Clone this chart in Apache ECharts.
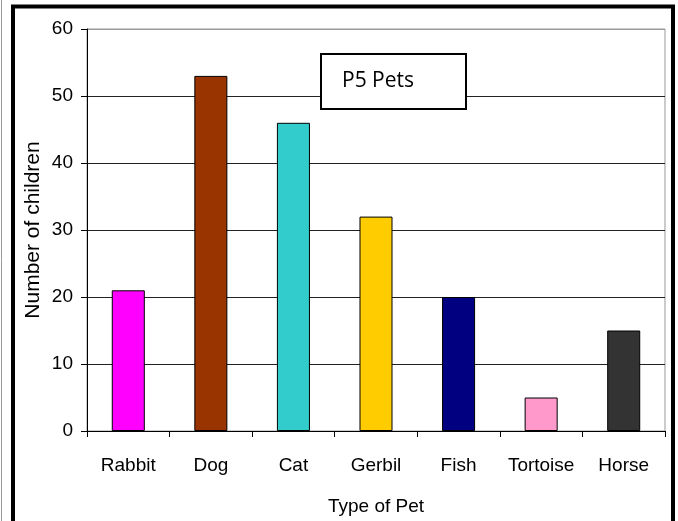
<!DOCTYPE html>
<html>
<head>
<meta charset="utf-8">
<script src="https://cdn.jsdelivr.net/npm/echarts@6/dist/echarts.min.js"></script>
<style>
  html, body { margin: 0; padding: 0; background: #fff; }
  #myChart { width: 678px; height: 521px; }
</style>
</head>
<body>
<div id="myChart"></div>
<script>
  // P5 pets survey
  const pets = ['Rabbit', 'Dog', 'Cat', 'Gerbil', 'Fish', 'Tortoise', 'Horse'];
  const children = [21, 53, 46, 32, 20, 5, 15];
  const petColors = ['#ff00ff', '#993300', '#33cccc', '#ffcc00', '#000080', '#ff99cc', '#333333'];

  const option = {
    animation: false,
    backgroundColor: '#fff',
    title: {
      text: 'P5 Pets',
      left: 321,
      top: 54,
      padding: [15, 52, 15, 21],
      borderColor: '#000',
      borderWidth: 2,
      backgroundColor: '#fff',
      textStyle: {
        fontFamily: 'Open Sans',
        fontSize: 21,
        fontWeight: 'normal',
        color: '#000',
        lineHeight: 25
      },
      z: 10
    },
    graphic: [
      {
        // outer frame
        type: 'rect',
        shape: { x: 13, y: 6.5, width: 660, height: 530 },
        style: { fill: 'none', stroke: '#000', lineWidth: 4 }
      },
      {
        type: 'line',
        shape: { x1: 1.5, y1: 0, x2: 1.5, y2: 521 },
        style: { stroke: '#999', lineWidth: 1 }
      }
    ],
    grid: {
      left: 87,
      right: 13,
      top: 29,
      bottom: 88,
      show: true,
      borderColor: '#999',
      borderWidth: 1
    },
    xAxis: {
      type: 'category',
      data: pets,
      name: 'Type of Pet',
      nameLocation: 'middle',
      nameGap: 66,
      nameTextStyle: { fontFamily: 'Liberation Sans', fontSize: 19, color: '#000' },
      axisLine: { lineStyle: { color: '#000', width: 1 } },
      axisTick: { show: true, length: 6, interval: 0, lineStyle: { color: '#000' } },
      axisLabel: {
        interval: 0,
        margin: 25,
        fontFamily: 'Liberation Sans',
        fontSize: 19,
        color: '#000'
      }
    },
    yAxis: {
      type: 'value',
      min: 0,
      max: 60,
      interval: 10,
      name: 'Number of children',
      nameLocation: 'middle',
      nameGap: 43,
      nameMoveOverlap: false,
      nameTextStyle: { fontFamily: 'Liberation Sans', fontSize: 21, color: '#000' },
      axisLine: { show: true, lineStyle: { color: '#000', width: 1 } },
      axisTick: { show: true, length: 6, lineStyle: { color: '#000' } },
      axisLabel: {
        margin: 14,
        fontFamily: 'Liberation Sans',
        fontSize: 19,
        color: '#000'
      },
      splitLine: {
        lineStyle: {
          color: ['#222', '#222', '#222', '#222', '#222', '#222', '#999'],
          width: 1
        }
      }
    },
    series: [
      {
        type: 'bar',
        barWidth: '40%',
        data: children.map((v, i) => ({
          value: v,
          itemStyle: { color: petColors[i] }
        })),
        itemStyle: { borderColor: '#000', borderWidth: 1 }
      }
    ]
  };

  const myChart = echarts.init(document.getElementById('myChart'));
  myChart.setOption(option, true);
</script>
</body>
</html>
